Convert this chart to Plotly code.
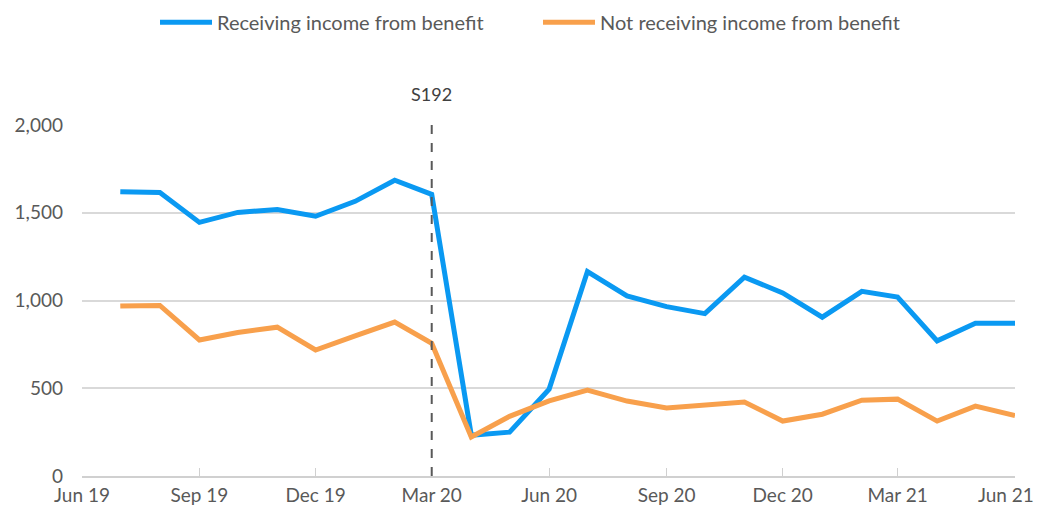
import plotly.graph_objects as go

months = ["2019-07-01", "2019-08-01", "2019-09-01", "2019-10-01", "2019-11-01", "2019-12-01",
          "2020-01-01", "2020-02-01", "2020-03-01", "2020-04-01", "2020-05-01", "2020-06-01",
          "2020-07-01", "2020-08-01", "2020-09-01", "2020-10-01", "2020-11-01", "2020-12-01",
          "2021-01-01", "2021-02-01", "2021-03-01", "2021-04-01", "2021-05-01", "2021-06-01"]

receiving = [1620, 1615, 1445, 1502, 1518, 1480, 1565, 1685, 1605, 232, 250, 495,
             1165, 1026, 965, 925, 1133, 1043, 905, 1052, 1020, 770, 870, 870]

not_receiving = [968, 972, 775, 818, 848, 718, 798, 877, 756, 222, 340, 428,
                 490, 427, 388, 405, 422, 313, 352, 432, 438, 313, 398, 345]

tick_dates = ["2019-06-01", "2019-09-01", "2019-12-01", "2020-03-01", "2020-06-01",
              "2020-09-01", "2020-12-01", "2021-03-01", "2021-06-01"]
tick_labels = ["Jun 19", "Sep 19", "Dec 19", "Mar 20", "Jun 20",
               "Sep 20", "Dec 20", "Mar 21", "Jun 21"]

event_date = "2020-03-01"
event_label = "S192"

font_family = "Lato, 'Open Sans', sans-serif"
text_color = "#595959"

fig = go.Figure()
fig.add_trace(go.Scatter(x=months, y=receiving, mode="lines",
                         name="Receiving income from benefit", legend="legend",
                         line=dict(color="#0A99F2", width=5)))
fig.add_trace(go.Scatter(x=months, y=not_receiving, mode="lines",
                         name="Not receiving income from benefit", legend="legend2",
                         line=dict(color="#F8A04C", width=5)))

fig.add_shape(type="line", xref="x", yref="paper", x0=event_date, x1=event_date,
              y0=0, y1=1, line=dict(color="#595959", width=2, dash="dash"))
fig.add_annotation(x=event_date, xref="x", y=1, yref="paper", yshift=31, text=event_label,
                   showarrow=False, font=dict(size=18, color="#404040", family=font_family),
                   yanchor="middle")

# last tick label drawn as annotation, right-aligned so it stays inside the page
fig.add_annotation(x=tick_dates[-1], xref="x", xshift=20, xanchor="right",
                   y=0, yref="paper", yshift=-18, yanchor="middle",
                   text=tick_labels[-1], showarrow=False, borderpad=0,
                   font=dict(size=19, color=text_color, family=font_family))

leg_common = dict(orientation="h", yanchor="middle", y=1.293, xanchor="left",
                  font=dict(size=20, color=text_color), itemwidth=52,
                  bgcolor="rgba(0,0,0,0)")

fig.update_layout(
    width=1037, height=497,
    margin=dict(l=74, r=30, t=117, b=29, autoexpand=False),
    plot_bgcolor="white", paper_bgcolor="white",
    font=dict(family=font_family, size=19, color=text_color),
    showlegend=True,
    legend=dict(x=(155 - 82) / 933, **leg_common),
    legend2=dict(x=(538 - 82) / 933, **leg_common),
    xaxis=dict(type="date", range=["2019-06-01", "2021-06-01"],
               tickvals=tick_dates, ticktext=tick_labels[:-1] + [""],
               showgrid=False, showline=True, linecolor="#d0d0d0", linewidth=2,
               ticks="inside", ticklen=8, tickcolor="#d0d0d0", tickwidth=1,
               tickfont=dict(size=19, color=text_color), ticklabelstandoff=1),
    yaxis=dict(range=[0, 2000], dtick=500, tickformat=",d",
               showgrid=True, gridcolor="#d9d9d9", gridwidth=2,
               zeroline=False, showline=False,
               tickfont=dict(size=19, color=text_color), ticklabelstandoff=18),
)

fig.write_html("out.html")
